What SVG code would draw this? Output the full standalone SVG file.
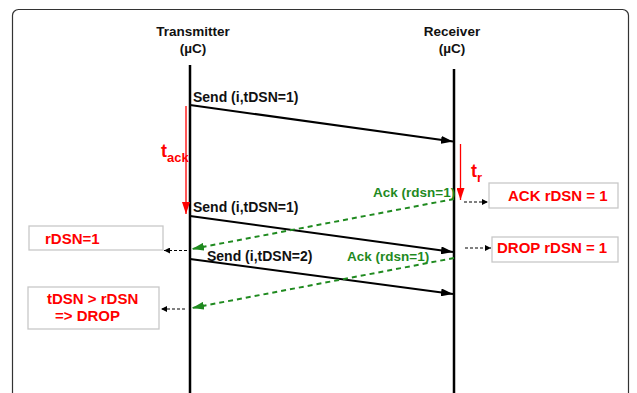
<svg xmlns="http://www.w3.org/2000/svg" width="637" height="393" viewBox="0 0 637 393">
  <style>
    text { font-family: "Liberation Sans", Arial, sans-serif; font-weight: bold; }
    .head { font-size: 13.5px; fill: #111; text-anchor: middle; }
    .msg { font-size: 14px; fill: #111; }
    .ack { font-size: 13.5px; fill: #1f8a1f; }
    .red { font-size: 15px; fill: #ff0000; }
    .life { stroke: #000; stroke-width: 2.5; fill: none; }
    .send { stroke: #000; stroke-width: 2; fill: none; }
    .ackline { stroke: #1f8a1f; stroke-width: 2; stroke-dasharray: 5 4; fill: none; }
    .timer { stroke: #ff0000; stroke-width: 1.3; fill: none; }
    .note { stroke: #000; stroke-width: 1; stroke-dasharray: 3 2; fill: none; }
    .box { fill: #fff; stroke: #c8c8c8; stroke-width: 1.3; }
  </style>
  <defs>
    <marker id="arrBlack" viewBox="0 0 12 8" refX="12" refY="4" markerWidth="12" markerHeight="8" markerUnits="userSpaceOnUse" orient="auto">
      <path d="M0,0 L12,4 L0,8 Z" fill="#000"/>
    </marker>
    <marker id="arrGreen" viewBox="0 0 12 8" refX="12" refY="4" markerWidth="12" markerHeight="8" markerUnits="userSpaceOnUse" orient="auto">
      <path d="M0,0 L12,4 L0,8 Z" fill="#1f8a1f"/>
    </marker>
    <marker id="arrRed" viewBox="0 0 8 12" refX="4" refY="12" markerWidth="8" markerHeight="12" markerUnits="userSpaceOnUse" orient="0">
      <path d="M0,0 L8,0 L4,12 Z" fill="#ff0000"/>
    </marker>
    <marker id="arrSmall" viewBox="0 0 6 6" refX="6" refY="3" markerWidth="6" markerHeight="6" markerUnits="userSpaceOnUse" orient="auto">
      <path d="M0,0 L6,3 L0,6 Z" fill="#000"/>
    </marker>
  </defs>

  <!-- outer frame -->
  <rect x="12.5" y="9.5" width="616" height="420" rx="6" ry="6" fill="#fff" stroke="#333" stroke-width="1.2"/>

  <!-- participants -->
  <g id="transmitter">
    <text class="head" x="193" y="36">Transmitter</text>
    <text class="head" x="193" y="53">(µC)</text>
    <line class="life" x1="190" y1="65" x2="190" y2="393"/>
  </g>
  <g id="receiver">
    <text class="head" x="452" y="36">Receiver</text>
    <text class="head" x="452" y="53">(µC)</text>
    <line class="life" x1="454" y1="69" x2="454" y2="393"/>
  </g>

  <!-- state notes -->
  <g id="note-ack">
    <rect class="box" x="489" y="183" width="129" height="25"/>
    <text class="red" x="508" y="201">ACK rDSN = 1</text>
  </g>
  <g id="note-drop">
    <rect class="box" x="492" y="237" width="126" height="25"/>
    <text class="red" x="497" y="253">DROP rDSN = 1</text>
  </g>
  <g id="note-rdsn">
    <rect class="box" x="29" y="226" width="134" height="24"/>
    <text class="red" x="45" y="244">rDSN=1</text>
  </g>
  <g id="note-compare">
    <rect class="box" x="28" y="287" width="131" height="42"/>
    <text class="red" x="47" y="304">tDSN &gt; rDSN</text>
    <text class="red" x="55" y="321">=&gt; DROP</text>
  </g>

  <!-- timers -->
  <g id="timer-ack">
    <line class="timer" x1="186" y1="106" x2="186" y2="214" marker-end="url(#arrRed)"/>
    <text x="161" y="157" fill="#ff0000" font-size="18px">t<tspan font-size="13px" dy="5">ack</tspan></text>
  </g>
  <g id="timer-r">
    <line class="timer" x1="460.5" y1="144" x2="460.5" y2="200" marker-end="url(#arrRed)"/>
    <text x="471" y="177" fill="#ff0000" font-size="18px">t<tspan font-size="13px" dy="5">r</tspan></text>
  </g>

  <!-- connectors -->
  <g id="connectors">
    <line class="send" x1="190" y1="105" x2="453" y2="141.5" marker-end="url(#arrBlack)"/>
    <text class="msg" x="193" y="102">Send (i,tDSN=1)</text>

    <line class="send" x1="190" y1="216" x2="453" y2="252" marker-end="url(#arrBlack)"/>
    <text class="msg" x="193" y="212">Send (i,tDSN=1)</text>

    <line class="send" x1="190" y1="259" x2="453" y2="294" marker-end="url(#arrBlack)"/>
    <text class="msg" x="207" y="261">Send (i,tDSN=2)</text>

    <line class="ackline" x1="454" y1="199" x2="192" y2="249" marker-end="url(#arrGreen)"/>
    <text class="ack" x="373" y="197">Ack (rdsn=1)</text>

    <line class="ackline" x1="454" y1="258" x2="192" y2="308" marker-end="url(#arrGreen)"/>
    <text class="ack" x="347" y="261">Ack (rdsn=1)</text>

    <line class="note" x1="464" y1="202" x2="488" y2="202" marker-end="url(#arrSmall)"/>
    <line class="note" x1="465" y1="248" x2="491" y2="248" marker-end="url(#arrSmall)"/>
    <line class="note" x1="187" y1="250.5" x2="164" y2="250.5" marker-end="url(#arrSmall)"/>
    <line class="note" x1="185" y1="309" x2="161" y2="309" marker-end="url(#arrSmall)"/>
  </g>
</svg>
